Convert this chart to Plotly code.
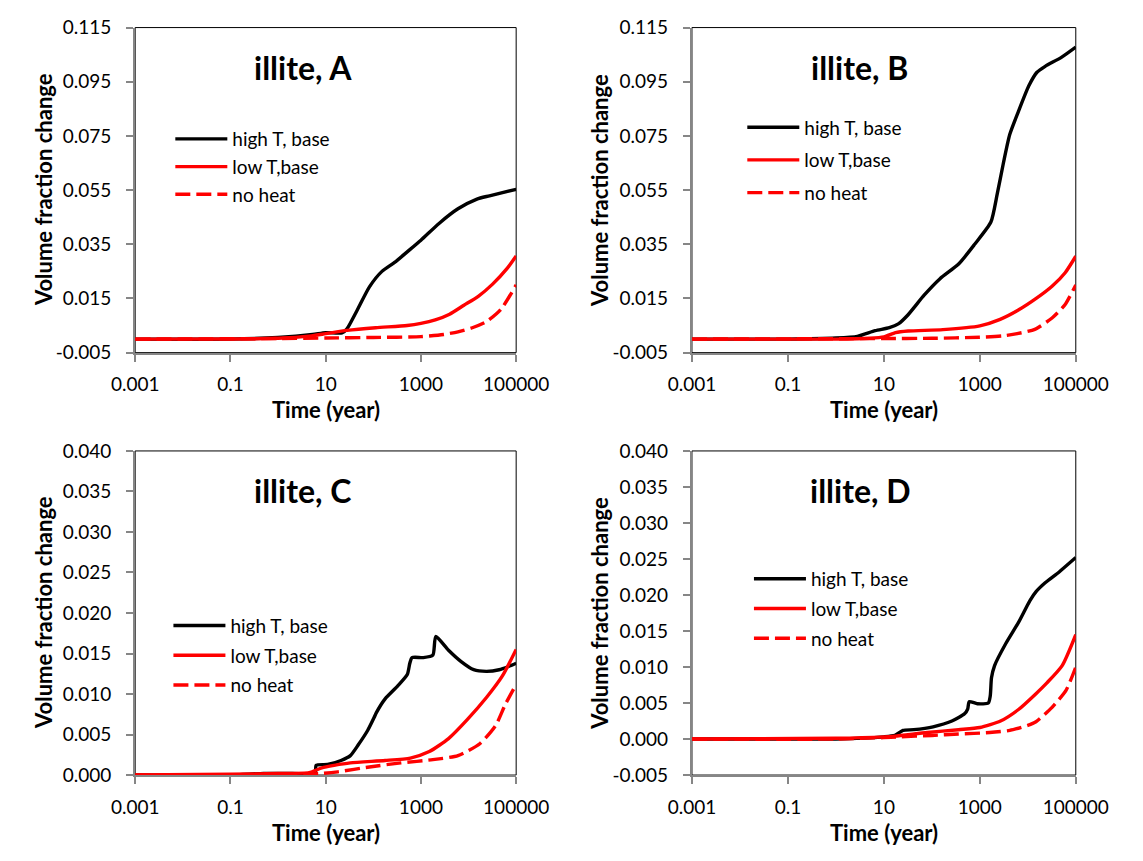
import plotly.graph_objects as go

W, H = 1143, 861

# ---------------- data (time in years, volume fraction change) ----------------
# Panel A
A_high_t = [0.001, 0.1, 1, 5.3, 10, 22, 28, 45, 83, 152, 280, 515, 1000, 2400, 6000, 15000, 27500, 100000]
A_high_v = [0, 0, 0.0006, 0.0017, 0.0024, 0.0023, 0.0038, 0.0104, 0.0193, 0.025, 0.0283, 0.0322, 0.0365, 0.0427, 0.0481, 0.0517, 0.0529, 0.0553]
A_low_t = [0.001, 1, 5, 10, 28, 112, 515, 1000, 2000, 4000, 8000, 16000, 32000, 64000, 100000]
A_low_v = [0, 0.0003, 0.0012, 0.002, 0.0032, 0.0042, 0.005, 0.0058, 0.0071, 0.0092, 0.0125, 0.0158, 0.0203, 0.026, 0.0307]
A_no_t = [0.001, 1, 10, 100, 1000, 3000, 6000, 12000, 24000, 48000, 100000]
A_no_v = [0, 0.0002, 0.0004, 0.0006, 0.0009, 0.0017, 0.0027, 0.0042, 0.0065, 0.011, 0.020]

# Panel B
B_high_t = [0.001, 0.1, 1, 2.8, 6.6, 13, 20, 32, 69, 148, 366, 780, 1700, 2300, 3100, 4200, 6300, 10500, 15500, 23000, 50000, 100000]
B_high_v = [0, 0, 0.0004, 0.001, 0.0031, 0.0042, 0.0056, 0.009, 0.0162, 0.0223, 0.0278, 0.035, 0.0432, 0.0535, 0.065, 0.0755, 0.0838, 0.0935, 0.0985, 0.1007, 0.104, 0.1078]
B_low_t = [0.001, 1, 5, 10, 17.5, 32, 170, 1000, 2650, 6600, 15200, 32000, 60000, 100000]
B_low_v = [0, 0, 0.0003, 0.0008, 0.0024, 0.003, 0.0035, 0.0049, 0.0073, 0.0109, 0.0151, 0.0195, 0.0245, 0.0306]
B_no_t = [0.001, 10, 100, 1000, 3000, 6000, 14000, 32000, 60000, 100000]
B_no_v = [0, 0.0002, 0.0003, 0.0007, 0.0012, 0.002, 0.0036, 0.0078, 0.0128, 0.020]

# Panel C
C_high_t = [0.001, 0.1, 0.5, 2, 6.0, 6.3, 11, 21, 33, 48, 76, 104, 116, 177, 326, 517, 585, 650, 1120, 1780, 2050, 3800, 7000, 12800, 24000, 44000, 69000, 100000]
C_high_v = [0, 0, 0.0002, 0.0002, 0.0002, 0.0012, 0.0013, 0.0018, 0.0024, 0.0037, 0.0055, 0.0071, 0.0077, 0.0094, 0.011, 0.0124, 0.0138, 0.0145, 0.0145, 0.0148, 0.0171, 0.0154, 0.014, 0.013, 0.0128, 0.013, 0.0134, 0.0138]
C_low_t = [0.001, 0.1, 1, 4.5, 8.3, 15, 33, 177, 600, 1500, 3800, 9600, 24000, 51000, 100000]
C_low_v = [0, 0.0001, 0.0002, 0.0003, 0.0009, 0.0012, 0.0015, 0.0018, 0.0021, 0.0029, 0.0045, 0.0069, 0.0096, 0.0122, 0.0155]
C_no_t = [0.001, 1, 8.3, 18, 83, 380, 1780, 6000, 17500, 37000, 59000, 100000]
C_no_v = [0, 0, 0.0002, 0.0004, 0.001, 0.0015, 0.0019, 0.0024, 0.0039, 0.0061, 0.0087, 0.0112]

# Panel D
D_high_t = [0.001, 0.1, 1, 10, 17, 25, 42, 106, 262, 480, 560, 600, 890, 1500, 1650, 1750, 2030, 3500, 6400, 11000, 15000, 23000, 45000, 100000]
D_high_v = [0, 0, 0, 0.0003, 0.0005, 0.0012, 0.0013, 0.0017, 0.0025, 0.0035, 0.0042, 0.0052, 0.0049, 0.005, 0.006, 0.0085, 0.0102, 0.0133, 0.0162, 0.0192, 0.0205, 0.0217, 0.0232, 0.0252]
D_low_t = [0.001, 1, 10, 17, 80, 360, 1000, 2700, 6400, 14800, 25000, 52000, 100000]
D_low_v = [0, 0.0001, 0.0003, 0.0004, 0.0009, 0.0013, 0.0016, 0.0025, 0.0041, 0.0063, 0.0078, 0.0102, 0.0145]
D_no_t = [0.001, 1, 10, 20, 100, 360, 1600, 4200, 10000, 14800, 32000, 63000, 100000]
D_no_v = [0, 0, 0.0002, 0.0003, 0.0005, 0.0007, 0.0009, 0.0012, 0.0019, 0.0024, 0.0044, 0.0068, 0.010]

series_names = ["high T, base", "low T,base", "no heat"]
panel_titles = ["illite, A", "illite, B", "illite, C", "illite, D"]

x_tickvals = [0.001, 0.1, 10, 1000, 100000]
x_ticktext = ["0.001", "0.1", "10", "1000", "100000"]
yAB_tickvals = [-0.005, 0.015, 0.035, 0.055, 0.075, 0.095, 0.115]
yAB_ticktext = ["-0.005", "0.015", "0.035", "0.055", "0.075", "0.095", "0.115"]
yC_tickvals = [0, 0.005, 0.01, 0.015, 0.02, 0.025, 0.03, 0.035, 0.04]
yC_ticktext = ["0.000", "0.005", "0.010", "0.015", "0.020", "0.025", "0.030", "0.035", "0.040"]
yD_tickvals = [-0.005, 0, 0.005, 0.01, 0.015, 0.02, 0.025, 0.03, 0.035, 0.04]
yD_ticktext = ["-0.005", "0.000", "0.005", "0.010", "0.015", "0.020", "0.025", "0.030", "0.035", "0.040"]

x_title = "Time (year)"
y_title = "Volume fraction change"

# ---------------- layout geometry (pixels) ----------------
FONT = "Lato"
panels = [
    dict(xl=117, xr=518, yt=16, yb=350, tx=294, ty=57, lx=154, ly=111, gap=0,
         data=[(A_high_t, A_high_v), (A_low_t, A_low_v), (A_no_t, A_no_v)],
         yr=[-0.005, 0.115], ytv=yAB_tickvals, ytt=yAB_ticktext, ytx=20, xtx=318, xty=408),
    dict(xl=703, xr=1107, yt=16, yb=350, tx=879, ty=57, lx=756, ly=99, gap=5,
         data=[(B_high_t, B_high_v), (B_low_t, B_low_v), (B_no_t, B_no_v)],
         yr=[-0.005, 0.115], ytv=yAB_tickvals, ytt=yAB_ticktext, ytx=605, xtx=905, xty=408),
    dict(xl=117, xr=518, yt=451, yb=784, tx=293, ty=492, lx=152, ly=611, gap=2,
         data=[(C_high_t, C_high_v), (C_low_t, C_low_v), (C_no_t, C_no_v)],
         yr=[0, 0.04], ytv=yC_tickvals, ytt=yC_ticktext, ytx=20, xtx=318, xty=843),
    dict(xl=703, xr=1107, yt=451, yb=784, tx=880, ty=492, lx=763, ly=563, gap=2,
         data=[(D_high_t, D_high_v), (D_low_t, D_low_v), (D_no_t, D_no_v)],
         yr=[-0.005, 0.04], ytv=yD_tickvals, ytt=yD_ticktext, ytx=605, xtx=905, xty=843),
]

styles = [dict(color="#000000", width=3.4, dash="solid"),
          dict(color="#FF0000", width=3.4, dash="solid"),
          dict(color="#FF0000", width=3.4, dash="15px,6px")]

fig = go.Figure()
layout = dict(width=W, height=H, margin=dict(l=0, r=0, t=0, b=0),
              paper_bgcolor="white", plot_bgcolor="white",
              font=dict(family=FONT, size=19, color="#000000"),
              annotations=[], shapes=[])

axis_common = dict(showline=True, linecolor="#868686", linewidth=2, ticks="outside",
                   ticklen=7, tickwidth=1.5, tickcolor="#868686", showgrid=False,
                   zeroline=False, tickfont=dict(family=FONT, size=19, color="#000000"))

for i, p in enumerate(panels):
    n = "" if i == 0 else str(i + 1)
    xa, ya = "x" + n, "y" + n
    leg = "legend" + n
    for j, (t, v) in enumerate(p["data"]):
        fig.add_trace(go.Scatter(x=t, y=v, mode="lines", name=series_names[j],
                                 line=dict(shape="spline", smoothing=0.6, **styles[j]),
                                 xaxis=xa, yaxis=ya, legend=leg,
                                 legendgroup=f"g{i}{j}", showlegend=True))
    layout["xaxis" + n] = dict(axis_common, type="log", range=[-3, 5],
                               tickvals=x_tickvals, ticktext=x_ticktext,
                               domain=[p["xl"] / W, p["xr"] / W], anchor=ya,
                               ticklabelstandoff=7)
    layout["yaxis" + n] = dict(axis_common, range=p["yr"], tickvals=p["ytv"],
                               ticktext=p["ytt"],
                               domain=[1 - p["yb"] / H, 1 - p["yt"] / H], anchor=xa,
                               ticklabelstandoff=11)
    layout[leg] = dict(x=p["lx"] / W, y=1 - p["ly"] / H, xanchor="left", yanchor="top",
                       bgcolor="rgba(0,0,0,0)", borderwidth=0, itemwidth=52,
                       tracegroupgap=p["gap"], font=dict(family=FONT, size=19, color="#000000"))
    layout["shapes"].append(dict(type="rect", xref=xa + " domain", yref=ya + " domain",
                                 x0=0, x1=1, y0=0, y1=1, layer="below",
                                 line=dict(color="#000000", width=1)))
    layout["annotations"].append(dict(text="<b>" + panel_titles[i] + "</b>", x=p["tx"] / W,
                                      y=1 - p["ty"] / H, xref="paper", yref="paper",
                                      showarrow=False, xanchor="center", yanchor="middle",
                                      font=dict(family=FONT, size=32, color="#000000")))
    layout["annotations"].append(dict(text="<b>" + y_title + "</b>", x=p["ytx"] / W,
                                      y=1 - (p["yt"] + p["yb"]) / 2 / H, xref="paper", yref="paper",
                                      showarrow=False, textangle=-90, xanchor="center", yanchor="middle",
                                      font=dict(family=FONT, size=22, color="#000000")))
    layout["annotations"].append(dict(text="<b>" + x_title + "</b>", x=p["xtx"] / W,
                                      y=1 - p["xty"] / H, xref="paper", yref="paper",
                                      showarrow=False, xanchor="center", yanchor="middle",
                                      font=dict(family=FONT, size=22, color="#000000")))

fig.update_layout(**layout)
fig.write_html("out.html", config={"displayModeBar": False},
               post_script="document.body.style.margin='0px';")
